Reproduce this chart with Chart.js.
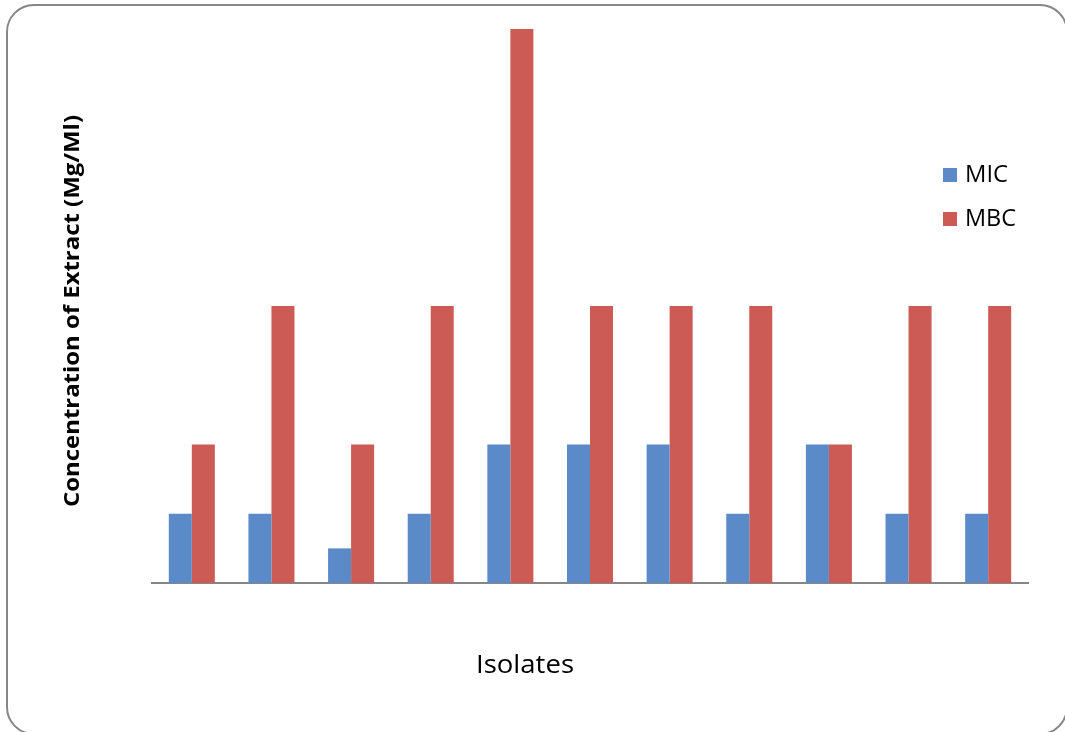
<!DOCTYPE html>
<html>
<head>
<meta charset="utf-8">
<script src="https://cdn.jsdelivr.net/npm/chart.js@4.4.1/dist/chart.umd.min.js"></script>
<style>
  html, body { margin: 0; padding: 0; background: #fff; }
  #wrap { position: relative; width: 1065px; height: 732px; overflow: hidden; }
  #frame {
    position: absolute; left: 6px; top: 4px; width: 1062px; height: 731px;
    border: 2px solid #878787; border-radius: 28px; box-sizing: border-box;
  }
  canvas { position: absolute; left: 0; top: 0; }
</style>
</head>
<body>
<div id="wrap">
  <div id="frame"></div>
  <canvas id="c" width="1065" height="732"></canvas>
</div>
<script>
// Isolates tested (unlabelled on the axis)
const isolates = ['1', '2', '3', '4', '5', '6', '7', '8', '9', '10', '11'];
// Minimum inhibitory concentration (mg/ml)
const micValues = [6.25, 6.25, 3.125, 6.25, 12.5, 12.5, 12.5, 6.25, 12.5, 6.25, 6.25];
// Minimum bactericidal concentration (mg/ml)
const mbcValues = [12.5, 25, 12.5, 25, 50, 25, 25, 25, 12.5, 25, 25];

const seriesNames = ['MIC', 'MBC'];
const seriesColors = ['#5A8AC7', '#CD5B55'];

const yTitle = 'Concentration of Extract (Mg/Ml)';
const xTitle = 'Isolates';
const FONT = '"Open Sans", "Liberation Sans", sans-serif';

// draw text squeezed horizontally to a given width
function fitText(ctx, text, x, y, width) {
  const w = ctx.measureText(text).width;
  const s = width / w;
  ctx.save();
  ctx.translate(x, y);
  ctx.scale(s, 1);
  ctx.fillText(text, 0, 0);
  ctx.restore();
}

const annotations = {
  id: 'annotations',
  afterDraw(chart) {
    const ctx = chart.ctx;
    ctx.save();
    ctx.fillStyle = '#000';
    ctx.textBaseline = 'middle';

    // y-axis title
    ctx.save();
    ctx.font = 'bold 22px ' + FONT;
    ctx.textAlign = 'center';
    ctx.translate(73, 311);
    ctx.rotate(-Math.PI / 2);
    fitText(ctx, yTitle, 0, 0, 392);
    ctx.restore();

    // x-axis title
    ctx.font = '26px ' + FONT;
    ctx.textAlign = 'center';
    fitText(ctx, xTitle, 525, 666, 98);

    // legend
    ctx.font = '23px ' + FONT;
    ctx.textAlign = 'left';
    const ys = [175, 219];
    const widths = [43, 51];
    seriesNames.forEach((name, i) => {
      ctx.fillStyle = seriesColors[i];
      ctx.fillRect(943, ys[i] - 7, 14, 14);
      ctx.fillStyle = '#000';
      fitText(ctx, name, 965, ys[i], widths[i]);
    });
    ctx.restore();
  }
};

new Chart(document.getElementById('c'), {
  type: 'bar',
  data: {
    labels: isolates,
    datasets: [
      { label: seriesNames[0], data: micValues, backgroundColor: seriesColors[0] },
      { label: seriesNames[1], data: mbcValues, backgroundColor: seriesColors[1] }
    ]
  },
  options: {
    responsive: false,
    animation: false,
    layout: { padding: { left: 152, right: 37, top: 29, bottom: 149 } },
    plugins: { legend: { display: false }, tooltip: { enabled: false } },
    datasets: { bar: { categoryPercentage: 0.578, barPercentage: 1.0, borderWidth: 0 } },
    scales: {
      x: {
        grid: { display: false, drawTicks: false },
        border: { display: true, color: '#868686', width: 2 },
        ticks: { display: false }
      },
      y: {
        display: false,
        min: 0,
        max: 50
      }
    }
  },
  plugins: [annotations]
});
</script>
</body>
</html>
